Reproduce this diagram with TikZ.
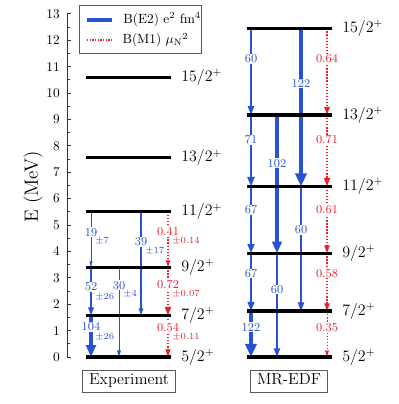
\documentclass[tikz,border=0pt]{standalone}
\usepackage{amsmath}
\usepackage{xcolor}
\usepackage{tikz}
\usetikzlibrary{arrows.meta}
\definecolor{eblue}{RGB}{40,82,212}
\definecolor{mred}{RGB}{232,32,44}
\definecolor{framegray}{RGB}{90,90,90}

\begin{document}
\begin{tikzpicture}[
        x=0.75pt, y=19.8pt,
        levelline/.style={line width=2.4pt, black},
        lev/.style={anchor=west, inner sep=0pt, xshift=6.5pt, font=\large},
        e2/.style={draw=eblue, line width={#1*0.025pt},
                  -{Triangle[length=3.4pt 2.1, width=1pt 2.4]}},
        m1/.style={draw=mred, line width={#1*2pt}, dash pattern=on 1pt off 1.3pt,
                  -{Triangle[length=3.4pt 2.1, width=1pt 2.4]}},
        valE/.style={fill=white, inner sep=0.6pt, text=eblue, font=\fontsize{9}{10}\selectfont},
        valM/.style={valE, text=mred},
        errE/.style={anchor=north west, inner sep=0pt, text=eblue, font=\scriptsize},
        errM/.style={errE, text=mred},
        method/.style={draw=framegray, line width=0.5pt, inner xsep=5pt, inner ysep=3pt,
                      font=\large, text height=8pt, text depth=2.5pt},
        axisline/.style={line width=0.5pt, black!80}
    ]
        \useasboundingbox (0,-1.780) rectangle (399,13.523);

        % energy axis
        \draw[axisline] (67,0) coordinate (ax0) -- (67,13) coordinate (ax13);
        \foreach \i in {0,...,13} {
            \draw[axisline] (67,\i) -- ++(4,0);
            \node[anchor=east, inner sep=0pt] (tick\i) at (60,\i) {\i};
        }
        \foreach \i in {0.5,1.5,...,12.5}
            \draw[axisline] (67,\i) -- ++(2.5,0);
        \node[rotate=90, font=\Large] (ylab) at (33,6.44) {E (MeV)};

        % legend
        \draw[draw=framegray, line width=0.5pt, fill=white] (79,13.33) rectangle (201,11.52);
        \coordinate (legE) at (87,12.77);
        \coordinate (legM) at (87,12.0);
        \draw[draw=eblue, line width=2.5pt] (legE) -- ++(25,0)
            node[anchor=west, xshift=4pt] (legEtxt) {B(E2) e$^2$ fm$^4$};
        \draw[draw=mred, line width=1.2pt, dash pattern=on 1pt off 1pt] (legM) -- ++(25,0)
            node[anchor=west, xshift=4pt] (legMtxt) {B(M1) $\mu_{\mathrm{N}}{}^2$};

        % levels and columns
        \foreach \J/\E in {5/0, 7/1.57, 9/3.40, 11/5.50, 13/7.55, 15/10.60}
            \coordinate (ex\J) at (86,\E);
        \foreach \J/\E in {5/0, 7/1.74, 9/3.93, 11/6.46, 13/9.17, 15/12.45}
            \coordinate (mr\J) at (247,\E);
        \coordinate (exA) at (91,0);
        \coordinate (exB) at (119,0);
        \coordinate (exC) at (141,0);
        \coordinate (exM) at (168,0);
        \coordinate (mrA) at (251,0);
        \coordinate (mrB) at (277,0);
        \coordinate (mrC) at (301,0);
        \coordinate (mrM) at (327,0);

        % experiment: E2
        \draw[e2=19] (exA |- ex11) -- node[valE, pos=0.37] (x19) {19} (exA |- ex9);
        \draw[e2=52] (exA |- ex9) -- node[valE, pos=0.41] (x52) {52} (exA |- ex7);
        \draw[e2=104] (exA |- ex7) -- node[valE, pos=0.27] (x104) {104} (exA |- ex5);
        \draw[e2=30] (exB |- ex9) -- node[valE, pos=0.2] (x30) {30} (exB |- ex5);
        \draw[e2=39] (exC |- ex11) -- node[valE, pos=0.29] (x39) {39} (exC |- ex7);
        \node[errE] (d19) at ([xshift=3pt, yshift=0pt]x19.south) {$\pm7$};
        \node[errE] (d52) at ([xshift=3pt, yshift=0pt]x52.south) {$\pm26$};
        \node[errE] (d104) at ([xshift=3pt, yshift=0pt]x104.south) {$\pm26$};
        \node[errE] (d30) at ([xshift=3pt, yshift=0pt]x30.south) {$\pm4$};
        \node[errE] (d39) at ([xshift=3pt, yshift=0pt]x39.south) {$\pm17$};

        % experiment: M1
        \draw[m1=0.41] (exM |- ex11) -- node[valM, pos=0.36] (x041) {0.41} (exM |- ex9);
        \draw[m1=0.72] (exM |- ex9) -- node[valM, pos=0.36] (x072) {0.72} (exM |- ex7);
        \draw[m1=0.54] (exM |- ex7) -- node[valM, pos=0.28] (x054) {0.54} (exM |- ex5);
        \node[errM] (d041) at ([xshift=3pt, yshift=0pt]x041.south) {$\pm0.14$};
        \node[errM] (d072) at ([xshift=3pt, yshift=0pt]x072.south) {$\pm0.07$};
        \node[errM] (d054) at ([xshift=3pt, yshift=0pt]x054.south) {$\pm0.11$};

        % MR-EDF: E2
        \draw[e2=60] (mrA |- mr15) -- node[valE, pos=0.35] (r60a) {60} (mrA |- mr13);
        \draw[e2=71] (mrA |- mr13) -- node[valE, pos=0.35] (r71) {71} (mrA |- mr11);
        \draw[e2=67] (mrA |- mr11) -- node[valE, pos=0.35] (r67a) {67} (mrA |- mr9);
        \draw[e2=67] (mrA |- mr9) -- node[valE, pos=0.35] (r67b) {67} (mrA |- mr7);
        \draw[e2=122] (mrA |- mr7) -- node[valE, pos=0.35] (r122a) {122} (mrA |- mr5);
        \draw[e2=122] (mrC |- mr15) -- node[valE, pos=0.35] (r122b) {122} (mrC |- mr11);
        \draw[e2=102] (mrB |- mr13) -- node[valE, pos=0.35] (r102) {102} (mrB |- mr9);
        \draw[e2=60] (mrC |- mr11) -- node[valE, pos=0.35] (r60b) {60} (mrC |- mr7);
        \draw[e2=60] (mrB |- mr9) -- node[valE, pos=0.35] (r60c) {60} (mrB |- mr5);

        % MR-EDF: M1
        \draw[m1=0.64] (mrM |- mr15) -- node[valM, pos=0.35] (r064) {0.64} (mrM |- mr13);
        \draw[m1=0.71] (mrM |- mr13) -- node[valM, pos=0.35] (r071) {0.71} (mrM |- mr11);
        \draw[m1=0.61] (mrM |- mr11) -- node[valM, pos=0.35] (r061) {0.61} (mrM |- mr9);
        \draw[m1=0.58] (mrM |- mr9) -- node[valM, pos=0.35] (r058) {0.58} (mrM |- mr7);
        \draw[m1=0.35] (mrM |- mr7) -- node[valM, pos=0.35] (r035) {0.35} (mrM |- mr5);

        % level lines
        \foreach \J in {5,7,...,15} {
            \draw[levelline] (ex\J) -- ++(85,0) node[lev] (exlab\J) {$\J/2^+$};
            \draw[levelline] (mr\J) -- ++(85,0) node[lev] (mrlab\J) {$\J/2^+$};
        }

        % method boxes
        \node[method] (expbox) at (129,-0.91) {Experiment};
        \node[method] (mrbox) at (289,-0.91) {MR-EDF};
    \end{tikzpicture}
\end{document}
